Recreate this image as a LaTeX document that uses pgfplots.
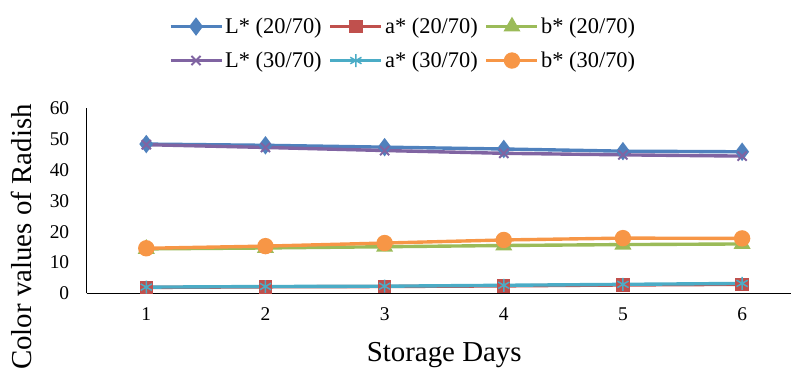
\documentclass[border=0pt]{standalone}
\usepackage{pgfplots}
\pgfplotsset{compat=1.18}
\usepackage{fontspec}
\setmainfont{Liberation Serif}
\definecolor{cL1}{HTML}{4F81BD}
\definecolor{ca1}{HTML}{C0504D}
\definecolor{cb1}{HTML}{9BBB59}
\definecolor{cL2}{HTML}{8064A2}
\definecolor{ca2}{HTML}{4BACC6}
\definecolor{cb2}{HTML}{F79646}
\begin{document}
\begin{tikzpicture}
\begin{axis}[
  name=ax,
  at={(0,0)}, anchor=south west,
  scale only axis,
  width=715bp, height=185bp,
  xmin=0.5, xmax=6.5, ymin=0, ymax=60,
  xtick={1,2,3,4,5,6},
  ytick={0,10,20,30,40,50,60},
  axis x line*=bottom, axis y line*=left,
  axis line style={black, line width=1.2pt, -},
  major tick length=0pt,
  tick label style={font=\fontsize{19.5}{21}\selectfont},
  /pgf/number format/assume math mode=true,
  yticklabel style={xshift=-14bp},
  xticklabel style={yshift=-11bp},
  xlabel={Storage Days},
  ylabel={Color values of Radish},
  label style={font=\fontsize{29}{31}\selectfont},
  xlabel style={at={(axis description cs:0.5,0)}, anchor=center, yshift=-62bp},
  ylabel style={at={(axis description cs:-0.0919,0.304)}, anchor=center},
  every axis plot/.append style={line width=3.4pt, mark size=5pt, mark options={solid}},
  legend columns=3,
  legend style={draw=none, fill=none, font=\fontsize{22.5}{24}\selectfont,
    at={(axis description cs:0.4424,1.350)}, anchor=center,
    /tikz/every odd column/.append style={column sep=0pt},
    /tikz/every even column/.append style={column sep=5pt},
    row sep=13pt},
  legend image code/.code={\draw[mark repeat=2,mark phase=2] plot coordinates {(0bp,0bp)(25.5bp,0bp)(51bp,0bp)};},
  clip=false,
]
\addplot[color=cL1, mark=diamond*, mark size=6.5pt] coordinates {(1,48.4)(2,48.0)(3,47.4)(4,46.8)(5,46.1)(6,45.9)};
\addlegendentry{L* (20/70)}
\addplot[color=ca1, mark=square*, mark size=5pt] coordinates {(1,1.9)(2,2.1)(3,2.2)(4,2.4)(5,2.7)(6,2.9)};
\addlegendentry{a* (20/70)}
\addplot[color=cb1, mark=triangle*, mark size=6.5pt] coordinates {(1,14.4)(2,14.7)(3,15.1)(4,15.5)(5,15.8)(6,16.0)};
\addlegendentry{b* (20/70)}
\addplot[color=cL2, mark=x, mark size=6.5pt, mark options={line width=2pt}] coordinates {(1,48.2)(2,47.3)(3,46.3)(4,45.4)(5,44.9)(6,44.5)};
\addlegendentry{L* (30/70)}
\addplot[color=ca2, mark=asterisk, mark size=6.5pt, mark options={line width=1.5pt}] coordinates {(1,2.0)(2,2.2)(3,2.3)(4,2.6)(5,2.9)(6,3.2)};
\addlegendentry{a* (30/70)}
\addplot[color=cb2, mark=*, mark size=6.5pt] coordinates {(1,14.6)(2,15.3)(3,16.3)(4,17.3)(5,17.9)(6,17.8)};
\addlegendentry{b* (30/70)}
\end{axis}
\pgfresetboundingbox
\path (ax.south west) ++(-86.7bp,-77.7bp) rectangle ++(791bp,371bp);
\end{tikzpicture}
\end{document}
